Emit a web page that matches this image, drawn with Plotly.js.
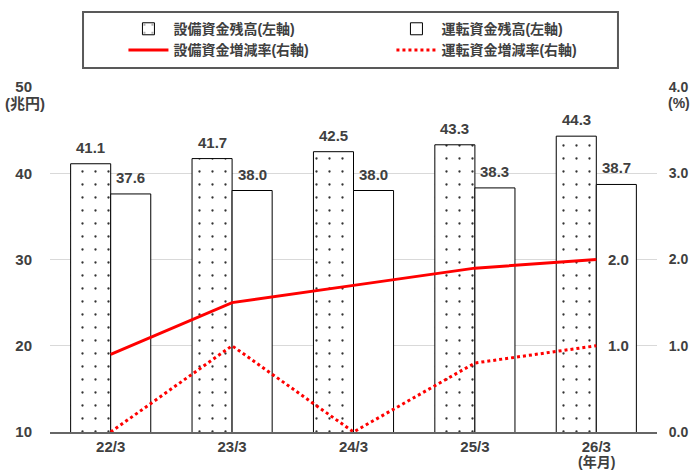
<!DOCTYPE html>
<html>
<head>
<meta charset="utf-8">
<script src="https://cdn.plot.ly/plotly-3.0.1.min.js"></script>
<style>body{margin:0;padding:0;background:#fff;}#chart{width:690px;height:470px;}</style>
</head>
<body>
<div id="chart"></div>
<script>
const categories = ['22/3', '23/3', '24/3', '25/3', '26/3'];
const equipmentBalance = [41.1, 41.7, 42.5, 43.3, 44.3];
const workingBalance = [37.6, 38.0, 38.0, 38.3, 38.7];
const equipmentRate = [0.9, 1.5, 1.7, 1.9, 2.0];
const workingRate = [0.0, 1.0, 0.0, 0.8, 1.0];
const leftTicks = [10, 20, 30, 40, 50];
const rightTicks = [0, 1, 2, 3, 4];
const names = ['設備資金残高(左軸)', '運転資金残高(左軸)', '設備資金増減率(右軸)', '運転資金増減率(右軸)'];

const FONT = '"Liberation Sans", Arial, "Noto Sans CJK JP", sans-serif';
const TXT = '#404040';
const bold = (size) => ({family: FONT, size: size, color: TXT, weight: 'bold'});

const last = categories.length - 1;

const data = [
  {
    type: 'bar', name: names[0], x: categories, y: equipmentBalance,
    marker: {color: '#ffffff', line: {color: '#000', width: 1},
      pattern: {shape: '.', fgcolor: '#333', bgcolor: '#fff', size: 13, solidity: 0.025}},
    yaxis: 'y'
  },
  {
    type: 'bar', name: names[1], x: categories, y: workingBalance,
    marker: {color: '#ffffff', line: {color: '#000', width: 1}},
    yaxis: 'y'
  },
  {
    type: 'scatter', mode: 'lines', name: names[2], x: categories, y: equipmentRate,
    line: {color: '#ff0000', width: 3}, cliponaxis: false, yaxis: 'y2'
  },
  {
    type: 'scatter', mode: 'lines', name: names[3], x: categories, y: workingRate,
    line: {color: '#ff0000', width: 3, dash: 'dot'}, cliponaxis: false, yaxis: 'y2'
  }
];

const barLabels = [];
categories.forEach((c, i) => {
  barLabels.push({text: equipmentBalance[i].toFixed(1), xref: 'x', yref: 'y', x: c, y: equipmentBalance[i],
    xanchor: 'center', yanchor: 'bottom', xshift: -20, yshift: 6, showarrow: false, font: bold(15)});
  barLabels.push({text: workingBalance[i].toFixed(1), xref: 'x', yref: 'y', x: c, y: workingBalance[i],
    xanchor: 'center', yanchor: 'bottom', xshift: 20, yshift: 6, showarrow: false, font: bold(15)});
});

const layout = {
  width: 690, height: 470,
  margin: {l: 50, r: 33, t: 87, b: 38},
  paper_bgcolor: '#fff', plot_bgcolor: '#fff',
  font: bold(14),
  barmode: 'group', bargap: 0.34, bargroupgap: 0,
  showlegend: true,
  legend: {
    orientation: 'h', x: 0.121, xanchor: 'left', y: 1.214, yanchor: 'top',
    entrywidth: 213, entrywidthmode: 'pixels', itemwidth: 40,
    bgcolor: 'rgba(0,0,0,0)', borderwidth: 0,
    font: bold(14), traceorder: 'normal'
  },
  shapes: [
    {type: 'rect', xref: 'paper', yref: 'paper', x0: 0.0544, x1: 0.9357, y0: 1.055, y1: 1.2174,
     line: {color: '#595959', width: 2}, fillcolor: 'rgba(0,0,0,0)', layer: 'below'}
  ],
  xaxis: {
    type: 'category', showgrid: false, ticks: '', showline: true, linecolor: '#666', linewidth: 1.5,
    tickfont: bold(15)
  },
  yaxis: {
    range: [10, 50], tickvals: leftTicks, showgrid: true, gridcolor: '#d9d9d9', gridwidth: 1,
    zeroline: false, showline: false, ticks: 'outside', ticklen: 14, tickcolor: 'rgba(0,0,0,0)',
    tickfont: bold(15)
  },
  yaxis2: {
    range: [0, 4], tickvals: rightTicks, tickformat: '.1f', overlaying: 'y', side: 'right',
    showgrid: false, zeroline: false, showline: false, ticks: 'outside', ticklen: 8, tickcolor: 'rgba(0,0,0,0)',
    tickfont: bold(14)
  },
  annotations: barLabels.concat([
    {text: '(兆円)', xref: 'paper', yref: 'paper', x: -0.005, y: 1.0, xanchor: 'right', yanchor: 'top', yshift: -6, showarrow: false,
     font: bold(15)},
    {text: '(%)', xref: 'paper', yref: 'paper', x: 1.015, y: 1.0, xanchor: 'left', yanchor: 'top', yshift: -6, showarrow: false,
     font: bold(14)},
    {text: '(年月)', xref: 'x', yref: 'paper', x: categories[last], y: 0, yanchor: 'top', yshift: -20, showarrow: false,
     font: bold(14)},
    {text: equipmentRate[last].toFixed(1), xref: 'x', yref: 'y2', x: categories[last], y: equipmentRate[last],
     xanchor: 'left', yanchor: 'middle', xshift: 10, showarrow: false, font: bold(15)},
    {text: workingRate[last].toFixed(1), xref: 'x', yref: 'y2', x: categories[last], y: workingRate[last],
     xanchor: 'left', yanchor: 'middle', xshift: 10, showarrow: false, font: bold(15)}
  ])
};

Plotly.newPlot('chart', data, layout, {displayModeBar: false, staticPlot: true});
</script>
</body>
</html>
